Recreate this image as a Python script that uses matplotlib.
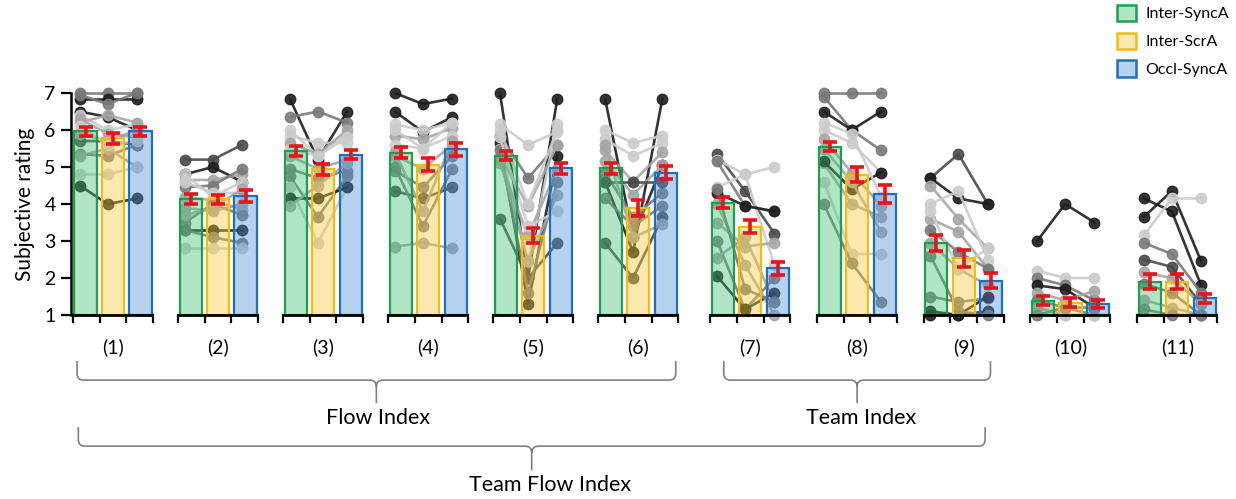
import matplotlib.pyplot as plt
from matplotlib.patches import Patch, PathPatch
from matplotlib.path import Path
from matplotlib.colors import to_rgba

plt.rcParams['font.family'] = ['Lato', 'DejaVu Sans']

group_labels = ['(1)', '(2)', '(3)', '(4)', '(5)', '(6)', '(7)', '(8)', '(9)', '(10)', '(11)']
conditions = ['Inter-SyncA', 'Inter-ScrA', 'Occl-SyncA']

# group means and error
mean_sync = [5.96, 4.13, 5.44, 5.38, 5.30, 4.97, 4.04, 5.55, 2.94, 1.39, 1.90]
mean_scr = [5.78, 4.13, 4.94, 5.06, 3.14, 3.89, 3.39, 4.79, 2.53, 1.33, 1.90]
mean_occl = [5.96, 4.22, 5.33, 5.48, 4.97, 4.85, 2.26, 4.27, 1.93, 1.30, 1.45]
sem_sync = [0.13, 0.13, 0.13, 0.15, 0.12, 0.15, 0.15, 0.12, 0.22, 0.12, 0.20]
sem_scr = [0.15, 0.12, 0.15, 0.17, 0.20, 0.22, 0.17, 0.20, 0.22, 0.12, 0.20]
sem_occl = [0.13, 0.17, 0.12, 0.18, 0.15, 0.17, 0.17, 0.25, 0.20, 0.10, 0.12]

# individual participants (sync, scr, occl)
p1 = [(7.0, 7.0, 7.0), (6.85, 6.85, 6.85), (6.95, 6.7, 7.0), (6.5, 6.35, 6.0), (6.4, 6.0, 6.15),
      (6.2, 6.4, 6.2), (6.3, 5.9, 5.8), (5.7, 5.7, 5.6), (5.35, 5.3, 5.6), (5.3, 5.5, 5.0),
      (4.8, 4.8, 5.0), (4.5, 4.0, 4.15), (5.9, 5.7, 6.0), (6.1, 5.6, 5.7)]
p2 = [(5.2, 5.2, 5.6), (4.8, 5.0, 4.6), (4.65, 4.65, 4.8), (4.45, 4.5, 4.95), (4.8, 4.2, 4.6),
      (4.2, 4.1, 3.85), (3.5, 4.0, 3.7), (3.3, 3.3, 3.3), (3.3, 3.1, 2.95), (2.8, 2.8, 2.8),
      (3.9, 3.8, 4.0), (4.6, 4.3, 4.3), (3.7, 3.9, 4.4)]
p3 = [(6.85, 5.2, 6.5), (6.35, 6.5, 6.2), (6.0, 5.3, 5.9), (5.85, 5.65, 5.65), (5.65, 5.35, 6.0),
      (5.3, 4.95, 5.2), (4.95, 4.7, 4.9), (4.75, 3.65, 4.75), (4.45, 2.95, 4.45), (4.15, 4.15, 4.45),
      (3.95, 4.5, 5.1), (5.5, 5.3, 5.8)]
p4 = [(7.0, 6.7, 6.85), (6.5, 5.95, 6.35), (6.15, 6.0, 6.2), (5.85, 5.75, 6.05), (5.6, 5.5, 5.85),
      (5.3, 4.95, 5.6), (4.9, 4.45, 5.3), (4.35, 4.15, 4.45), (2.85, 2.95, 2.8), (5.0, 3.4, 4.95),
      (5.4, 3.8, 5.7), (6.0, 5.5, 6.2)]
p5 = [(7.0, 2.0, 6.85), (6.15, 5.6, 5.95), (5.85, 4.7, 5.6), (5.65, 1.3, 5.3), (5.5, 2.45, 6.15),
      (5.1, 3.15, 4.95), (3.6, 2.0, 2.95), (5.3, 3.95, 5.6), (5.45, 1.6, 4.6), (5.2, 2.45, 4.25),
      (5.8, 3.4, 3.8), (6.0, 4.0, 6.0)]
p6 = [(6.85, 3.1, 5.05), (4.6, 2.7, 6.85), (6.0, 5.65, 5.85), (5.75, 5.3, 5.65), (5.45, 4.6, 5.4),
      (5.15, 4.25, 5.05), (4.85, 3.65, 4.3), (4.6, 4.6, 4.6), (4.15, 3.4, 3.95), (2.95, 2.0, 3.65),
      (5.6, 3.1, 3.45)]
p7 = [(5.35, 4.35, 3.2), (5.2, 4.8, 2.35), (5.15, 3.95, 3.8), (4.45, 4.8, 5.0), (4.3, 3.95, 3.8),
      (3.5, 2.85, 2.95), (3.0, 1.15, 2.0), (2.55, 3.1, 1.35), (2.05, 1.15, 1.6), (4.0, 2.35, 1.0),
      (4.4, 1.7, 1.35)]
p8 = [(7.0, 7.0, 7.0), (6.9, 6.0, 5.45), (6.5, 6.0, 6.5), (6.0, 5.65, 4.85), (5.75, 4.85, 3.95),
      (5.1, 4.0, 3.65), (5.15, 4.4, 4.85), (4.6, 2.65, 2.65), (4.0, 2.4, 1.35), (5.5, 4.6, 3.25),
      (6.2, 5.9, 4.2)]
p9 = [(4.7, 5.35, 4.0), (4.7, 4.15, 4.0), (4.5, 3.6, 2.8), (4.0, 4.35, 2.5), (3.6, 3.25, 2.25),
      (3.3, 2.7, 2.25), (2.95, 2.25, 1.8), (1.5, 1.35, 1.45), (1.1, 1.0, 1.1), (1.0, 1.0, 1.5),
      (3.8, 2.25, 2.8), (2.6, 1.1, 1.0)]
p10 = [(3.0, 4.0, 3.5), (2.2, 2.0, 2.0), (2.0, 1.8, 1.4), (1.8, 1.7, 1.2), (1.6, 1.4, 1.65),
       (1.4, 1.2, 1.0), (1.2, 1.0, 1.0), (1.0, 1.0, 1.0), (1.0, 1.2, 1.2)]
p11 = [(4.15, 3.8, 1.8), (3.65, 4.35, 2.45), (3.15, 4.15, 4.15), (2.95, 2.65, 1.6), (2.5, 2.3, 1.3),
       (2.15, 2.0, 1.3), (1.85, 1.6, 1.0), (1.4, 1.2, 1.0), (1.15, 1.0, 1.0)]
subjects = [p1, p2, p3, p4, p5, p6, p7, p8, p9, p10, p11]

# line shades per participant (k black ... v very light)
shades = ['mkmkvlldmlvklv', 'dklmvlmkmvlvl', 'kmvvllmmvklv', 'kkvlvlmdlmlv', 'kvmkvldlmlvv',
          'kkvvllmdmdl', 'dvmvklmlklm', 'mmkvllkvmlv', 'dklvlmlmkkvm', 'kvmklmlvm', 'kkvmdlmlm']
gray = {'k': '#1e1e1e', 'd': '#4a4a4a', 'm': '#7a7a7a', 'l': '#a6a6a6', 'v': '#cccccc'}

face = ['#3cbf6e', '#f9c93a', '#4a90d9']
edge = ['#1f9e50', '#f2bd10', '#1f6fbf']

fig = plt.figure(figsize=(12.36, 4.99), dpi=100)
ax = fig.add_axes([71 / 1236, 184 / 499, (1230 - 71) / 1236, 222 / 499])


def py(p):
    # pixel row -> data y
    return 1 - (p - 315) / 36.95


starts = [3.94 * g if g < 6 else 23.9 + 4.0 * (g - 6) for g in range(11)]
means = [mean_sync, mean_scr, mean_occl]
sems = [sem_sync, sem_scr, sem_occl]

for g in range(11):
    x0 = starts[g]
    pts_x = [x0 + 0.25, x0 + 1.3, x0 + 2.4]
    for vals, sh in zip(subjects[g], shades[g]):
        ax.plot(pts_x, vals, '-o', color=gray[sh], lw=1.9, ms=7.5, alpha=0.9, zorder=2, clip_on=False)
    for c in range(3):
        xc = x0 + 0.47 + c * 1.03
        m = means[c][g]
        ax.bar(xc, m - 1, bottom=1, width=0.83, facecolor=to_rgba(face[c], 0.4),
               edgecolor=edge[c], linewidth=1.6, zorder=3)
        ax.errorbar(xc, m, yerr=sems[c][g], fmt='none', ecolor='#e8141b', elinewidth=2.6,
                    capsize=5, capthick=2.6, zorder=5)
    # per-group baseline with ticks
    ax.plot([x0, x0 + 3], [1, 1], color='k', lw=2, zorder=6, clip_on=False, solid_capstyle='butt')
    for t in range(4):
        ax.plot([x0 + t, x0 + t], [1, 1 - 0.19], color='k', lw=1.6, zorder=6, clip_on=False)
    ax.text(x0 + 1.5, py(347), group_labels[g], ha='center', va='center', fontsize=14)


def bracket(xa, xb, ytop, yh, ytip):
    rx, ry = 0.25, 0.18
    xm = (xa + xb) / 2
    verts = [(xa, ytop), (xa, yh + ry), (xa, yh), (xa + rx, yh), (xm - rx, yh), (xm, yh), (xm, yh - ry),
             (xm, ytip), (xm, yh - ry), (xm, yh), (xm + rx, yh), (xb - rx, yh), (xb, yh), (xb, yh + ry), (xb, ytop)]
    codes = [Path.MOVETO, Path.LINETO, Path.CURVE3, Path.CURVE3, Path.LINETO, Path.CURVE3, Path.CURVE3,
             Path.LINETO, Path.MOVETO, Path.CURVE3, Path.CURVE3, Path.LINETO, Path.CURVE3, Path.CURVE3, Path.LINETO]
    ax.add_patch(PathPatch(Path(verts, codes), fill=False, edgecolor='#808080', lw=1.2, clip_on=False))
    return xm


xm = bracket(starts[0] + 0.15, starts[5] + 2.9, py(361), py(380), py(403))
ax.text(xm + 0.05, py(418), 'Flow Index', ha='center', va='center', fontsize=15.5)
xm = bracket(starts[6] + 0.5, starts[8] + 2.5, py(361), py(380), py(403))
ax.text(xm + 0.15, py(418), 'Team Index', ha='center', va='center', fontsize=15.5)
xm = bracket(starts[0] + 0.2, starts[8] + 2.3, py(427), py(446), py(470))
ax.text(xm + 0.7, py(485), 'Team Flow Index', ha='center', va='center', fontsize=15.5)

ax.set_xlim(-0.075, (1230 - 73) / 26.67)
ax.set_ylim(1, 7)
ax.set_yticks(range(1, 8))
ax.set_xticks([])
ax.tick_params(axis='y', length=7, width=1.6, labelsize=14, pad=4)
for s in ['top', 'right', 'bottom']:
    ax.spines[s].set_visible(False)
ax.spines['left'].set_linewidth(1.8)
ax.set_ylabel('Subjective rating', fontsize=15, labelpad=7)

handles = [Patch(facecolor=to_rgba(face[c], 0.4), edgecolor=edge[c], linewidth=1.8) for c in range(3)]
fig.legend(handles, conditions, loc='upper left', bbox_to_anchor=(1112 / 1236, 1.0), frameon=False,
           fontsize=11.5, handlelength=1.2, handleheight=1.2, labelspacing=0.7, handletextpad=0.6,
           borderaxespad=0, borderpad=0.3)

fig.savefig('out.png', dpi=100)
